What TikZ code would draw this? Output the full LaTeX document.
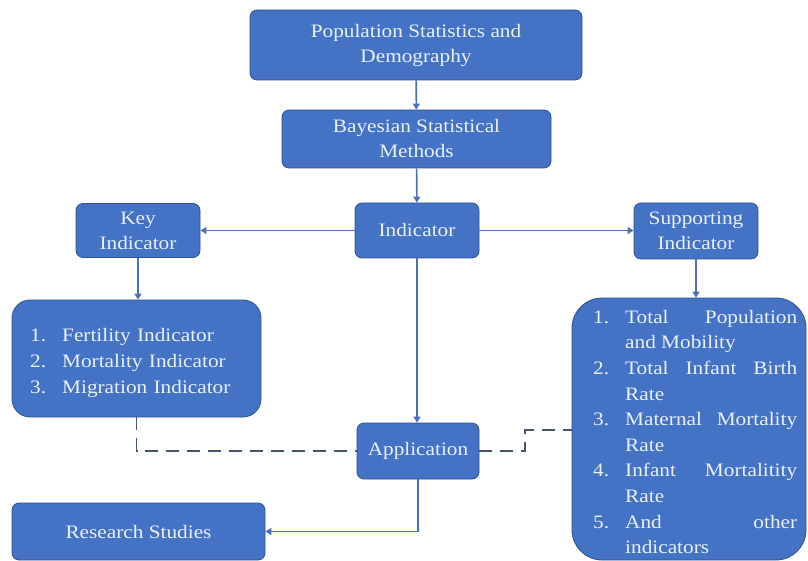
\documentclass[tikz,border=0pt]{standalone}
\usepackage{fontspec}
\setmainfont{Liberation Serif}[FakeStretch=1.12]
\usetikzlibrary{arrows.meta}
\definecolor{boxfill}{HTML}{4472C4}
\definecolor{boxline}{HTML}{2F528F}
\definecolor{txtc}{HTML}{EAF0FA}
\definecolor{arrc}{HTML}{4A72B8}
\definecolor{dashc}{HTML}{44546A}
\newcommand\litem[2]{\noindent\hangindent=32pt\hangafter=1\makebox[32pt][l]{#1}#2\par}
\tikzset{
  box/.style={draw=boxline, fill=boxfill, rounded corners=7pt, line width=0.8pt,
    text=txtc, align=center, inner sep=0pt,
    font=\fontsize{19}{25}\selectfont},
  listtext/.style={text=txtc, inner sep=0pt, anchor=west,
    font=\fontsize{19}{25.6}\selectfont},
  conn/.style={draw=arrc, line width=1.6pt, -{Triangle[length=6pt,width=7pt]}},
  dashconn/.style={draw=dashc, line width=1.8pt, dash pattern=on 13pt off 8pt}
}
\begin{document}
\begin{tikzpicture}[x=1pt,y=-1pt]
\useasboundingbox (0,0) rectangle (808,561);
% boxes
\node[box, minimum width=332, minimum height=70] (top) at (416,45) {Population Statistics and\\Demography};
\node[box, minimum width=269, minimum height=58] (bay) at (416.5,139) {Bayesian Statistical\\Methods};
\node[box, minimum width=124, minimum height=55] (ind) at (417,230.5) {Indicator};
\node[box, minimum width=124, minimum height=54] (key) at (138,230.5) {Key\\Indicator};
\node[box, minimum width=124, minimum height=56] (sup) at (696,231) {Supporting\\Indicator};
\node[box, rounded corners=18pt, minimum width=249, minimum height=117] (ll) at (136.5,358.5) {};
\node[box, rounded corners=30pt, minimum width=234, minimum height=262] (rl) at (689,429) {};
\node[box, minimum width=122, minimum height=56] (app) at (418,451) {Application};
\node[box, minimum width=253, minimum height=57] (res) at (138.5,531.5) {Research Studies};
% list texts
\node[listtext, text width=230, align=left] (lltext) at (30,363)
  {\litem{1.}{Fertility Indicator}\litem{2.}{Mortality Indicator}\litem{3.}{Migration Indicator}};
\node[listtext, text width=204, align=justify] (rltext) at (593,432)
  {\tolerance=10000\hbadness=10000\hyphenpenalty=10000\exhyphenpenalty=10000
   \litem{1.}{Total Population and Mobility}%
   \litem{2.}{Total Infant Birth Rate}%
   \litem{3.}{Maternal Mortality Rate}%
   \litem{4.}{Infant Mortalitity Rate}%
   \litem{5.}{And other\linebreak indicators}};
% connectors
\draw[conn] (top) -- (bay);
\draw[conn] (bay) -- (ind);
\draw[conn] (ind.west) -- (ind.west -| key.east);
\draw[conn] (ind.east) -- (ind.east -| sup.west);
\draw[conn] (key.south) -- (key.south |- ll.north);
\draw[conn] (sup.south) -- (sup.south |- rl.north);
\draw[conn] (ind.south) -- (ind.south |- app.north);
\draw[conn] (app.south) |- (res.east);
% dashed
\coordinate (dA) at (525,451);
\coordinate (dB) at (525,430);
\draw[dashconn] (ll.south) |- (app.west);
\draw[dashconn] (app.east) -- (dA) -- (dB) -- (dB -| rl.west);
\end{tikzpicture}
\end{document}
